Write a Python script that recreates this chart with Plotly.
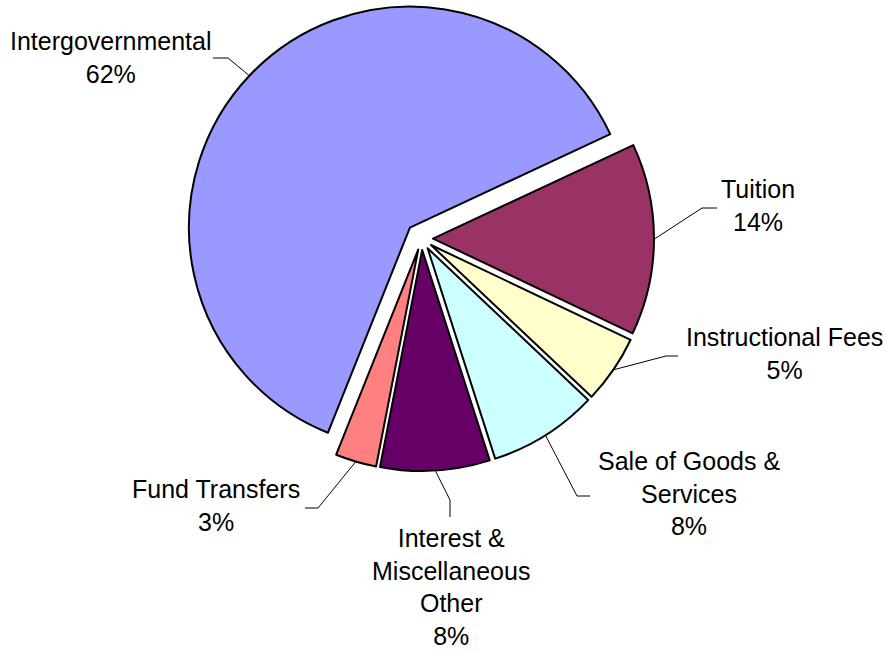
import math
import plotly.graph_objects as go

# Revenue sources (percent of total), in clockwise order from the Tuition slice
categories = ["Tuition", "Instructional Fees", "Sale of Goods & Services",
              "Interest & Miscellaneous Other", "Fund Transfers", "Intergovernmental"]
values = [14, 5, 8, 8, 3, 62]
label_text = ["Tuition<br>14%", "Instructional Fees<br>5%", "Sale of Goods &<br>Services<br>8%",
              "Interest &<br>Miscellaneous<br>Other<br>8%", "Fund Transfers<br>3%",
              "Intergovernmental<br>62%"]
colors = ["#993366", "#FFFFCC", "#CCFFFF", "#660066", "#FF8080", "#9999FF"]
pulls = [0.052, 0.052, 0.052, 0.052, 0.052, 0.072]

W, H = 893, 652
ROTATION = 65          # degrees clockwise from 12 o'clock where the first slice starts
CX, CY = 421.5, 238.5  # pie centre in pixels
R = 221.0              # pie radius in pixels

# square domain sized so that plotly's radius (box/2 / (1+max pull)) equals R
half = R * (1 + max(pulls))
domain_x = [(CX - half) / W, (CX + half) / W]
domain_y = [1 - (CY + half) / H, 1 - (CY - half) / H]

fig = go.Figure(go.Pie(
    labels=categories,
    values=values,
    sort=False,
    direction="clockwise",
    rotation=ROTATION,
    pull=pulls,
    marker=dict(colors=colors, line=dict(color="#000000", width=2)),
    textinfo="none",
    hoverinfo="label+percent",
    showlegend=False,
    domain=dict(x=domain_x, y=domain_y),
))

# label placement: (label centre x, label centre y), leader elbow, leader end (pixels)
label_pos = [(758, 205), (784, 353), (689, 494), (451, 587), (216, 505), (111, 57)]
elbows = [(702, 208), (666, 356), (577, 496), (450, 500), (318, 508), (228, 58)]
ends = [(717, 208), (678, 356), (590, 496), (450, 517), (305, 508), (213, 58)]


def px(x, y):
    return x / W, 1 - y / H


total = sum(values)
start = ROTATION
for i, v in enumerate(values):
    span = 360.0 * v / total
    mid = math.radians(start + span / 2)
    start += span
    # point on the pulled slice's outer arc at its mid-angle
    rr = R * (1 + pulls[i])
    ax, ay = CX + rr * math.sin(mid), CY - rr * math.cos(mid)
    pts = [(ax, ay), elbows[i], ends[i]]
    path = "M " + " L ".join(f"{px(x, y)[0]},{px(x, y)[1]}" for x, y in pts)
    fig.add_shape(type="path", path=path, xref="paper", yref="paper",
                  line=dict(color="#000000", width=1))
    lx, ly = px(*label_pos[i])
    fig.add_annotation(x=lx, y=ly, xref="paper", yref="paper", text=label_text[i],
                       showarrow=False, xanchor="center", yanchor="middle", align="center",
                       font=dict(family="Liberation Sans, Arial, sans-serif", size=25, color="#000000"))

fig.update_layout(width=W, height=H, margin=dict(l=0, r=0, t=0, b=0),
                  paper_bgcolor="#FFFFFF", plot_bgcolor="#FFFFFF")

fig.write_html("out.html")
